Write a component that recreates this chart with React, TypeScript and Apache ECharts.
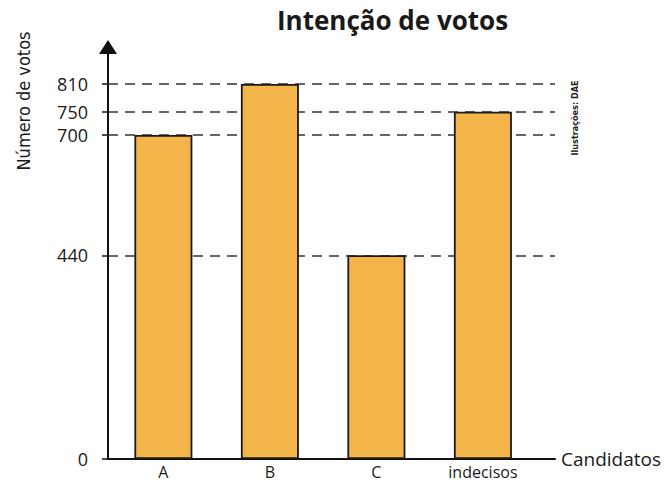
import React, { useEffect, useRef } from "react";
import * as echarts from "echarts";

const categories = ["A", "B", "C", "indecisos"];
const votes = [700, 810, 440, 750];
const yTickValues = [0, 440, 700, 750, 810];
const refLines = [810, 750, 700, 440];

const FONT = "'Open Sans', 'Noto Sans', sans-serif";
const NARROW = "'Liberation Sans Narrow', 'DejaVu Sans Condensed', 'Open Sans', sans-serif";

export default function App() {
  const ref = useRef<HTMLDivElement>(null);
  useEffect(() => {
    document.body.style.margin = "0";
    const chart = echarts.init(ref.current!, null, { renderer: "svg" });
    chart.setOption({
      animation: false,
      backgroundColor: "#ffffff",
      title: {
        text: "Intenção de votos",
        left: 277,
        top: 7,
        padding: 0,
        textStyle: { fontFamily: FONT, fontWeight: "bold", fontSize: 26, color: "#1a1a1a" },
      },
      grid: { left: 108, right: 112, top: 47, bottom: 23, containLabel: false },
      xAxis: {
        type: "value",
        min: -0.52,
        max: 3.677,
        splitLine: { show: false },
        axisLine: { show: true, lineStyle: { color: "#111", width: 2 } },
        axisTick: { show: false },
        axisLabel: {
          customValues: categories.map((_, i) => i),
          formatter: (v: number) => categories[Math.round(v)] ?? "",
          fontFamily: FONT,
          fontSize: 16,
          color: "#1a1a1a",
          margin: 5,
        },
        name: "Candidatos",
        nameLocation: "end",
        nameGap: 6,
        nameTextStyle: {
          fontFamily: FONT,
          fontSize: 19,
          color: "#1a1a1a",
          verticalAlign: "middle",
          padding: [0, 0, 18, 0],
        },
      },
      yAxis: {
        type: "value",
        min: 0,
        max: 890,
        splitLine: { show: false },
        axisLine: {
          show: true,
          onZero: false,
          symbol: ["none", "triangle"],
          symbolSize: [18, 14],
          lineStyle: { color: "#111", width: 2 },
        },
        axisTick: {
          show: true,
          customValues: yTickValues,
          length: 6,
          lineStyle: { color: "#111", width: 1.5 },
        },
        axisLabel: {
          customValues: yTickValues,
          fontFamily: FONT,
          fontSize: 18,
          fontWeight: 500,
          color: "#1a1a1a",
          margin: 20,
          lineHeight: 20,
        },
      },
      series: [
        {
          type: "bar",
          data: votes.map((v, i) => [i, v]),
          barWidth: 58,
          itemStyle: { color: "#F3B54A", borderColor: "#1a1a1a", borderWidth: 1.8 },
          markLine: {
            z: 1,
            silent: true,
            symbol: ["none", "none"],
            label: { show: false },
            lineStyle: { type: [10, 7], color: "#333", width: 1.5 },
            data: refLines.map((v) => ({ yAxis: v })),
          },
        },
      ],
      graphic: [
        {
          type: "text",
          x: 23,
          y: 101,
          rotation: Math.PI / 2,
          style: {
            text: "Número de votos",
            fontFamily: NARROW,
            fontSize: 18,
            fill: "#1a1a1a",
            align: "center",
            verticalAlign: "middle",
          },
        },
        {
          type: "text",
          x: 575,
          y: 118,
          rotation: Math.PI / 2,
          style: {
            text: "Ilustrações: DAE",
            fontFamily: NARROW,
            fontSize: 9,
            fontWeight: "bold",
            fill: "#222",
            align: "center",
            verticalAlign: "middle",
          },
        },
      ],
    });
    return () => chart.dispose();
  }, []);
  return <div ref={ref} style={{ width: 667, height: 482 }} />;
}
